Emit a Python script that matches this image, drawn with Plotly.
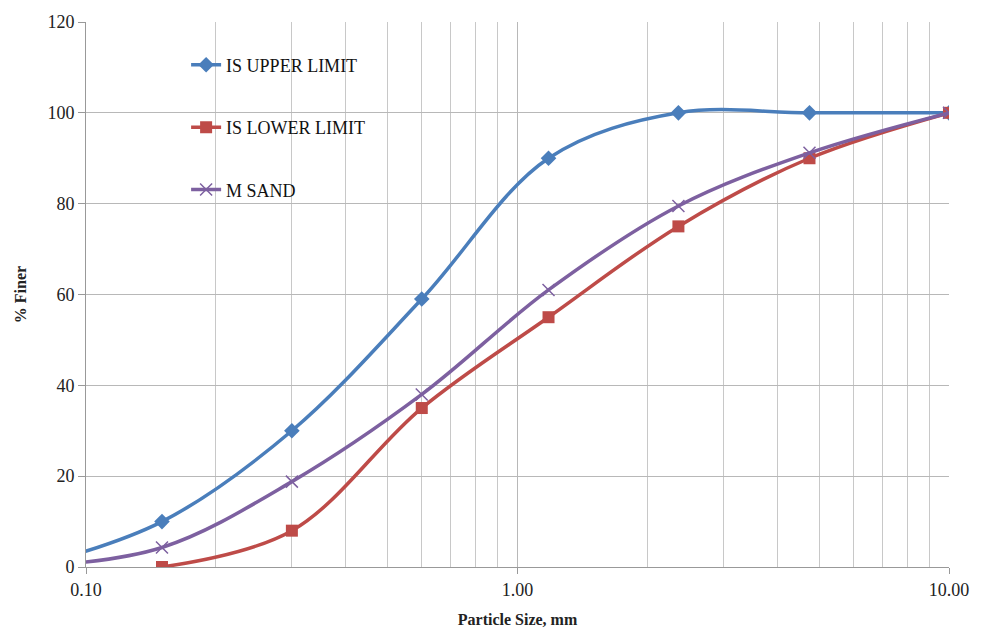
import plotly.graph_objects as go

sieve_mm = [0.075, 0.15, 0.3, 0.6, 1.18, 2.36, 4.75, 10.0]
upper_limit = [0, 10, 30, 59, 90, 100, 100, 100]
lower_sieve = [0.15, 0.3, 0.6, 1.18, 2.36, 4.75, 10.0]
lower_limit = [0, 8, 35, 55, 75, 90, 100]
m_sand = [0, 4.3, 18.8, 38, 61, 79.5, 91.2, 100]

x_tick_vals = [0.1, 1, 10]
x_tick_text = ["0.10", "1.00", "10.00"]
minor_vals = [0.2, 0.3, 0.4, 0.5, 0.6, 0.7, 0.8, 0.9, 2, 3, 4, 5, 6, 7, 8, 9]

BLUE = "#4A7EBB"
RED = "#BE4B48"
PURPLE = "#7D60A0"
FONT = "Liberation Serif, Times New Roman, serif"

fig = go.Figure()
fig.add_trace(go.Scatter(x=sieve_mm, y=upper_limit, name="IS UPPER LIMIT", legendgroup="a",
                         mode="lines+markers", line=dict(color=BLUE, width=3.5, shape="spline", smoothing=1),
                         marker=dict(symbol="diamond", size=12, color=BLUE)))
fig.add_trace(go.Scatter(x=lower_sieve, y=lower_limit, name="IS LOWER LIMIT", legendgroup="b",
                         mode="lines+markers", line=dict(color=RED, width=3.5, shape="spline", smoothing=1),
                         marker=dict(symbol="square", size=12, color=RED)))
fig.add_trace(go.Scatter(x=sieve_mm, y=m_sand, name="M SAND", legendgroup="c",
                         mode="lines+markers", line=dict(color=PURPLE, width=3.5, shape="spline", smoothing=1),
                         marker=dict(symbol="x-thin-open", size=12, color=PURPLE,
                                     line=dict(color=PURPLE, width=1.5))))

# the page body has an 8px margin, so the figure is sized and padded to compensate
fig.update_layout(
    width=976, height=620,
    margin=dict(l=78, r=35, t=14, b=61),
    paper_bgcolor="white", plot_bgcolor="white",
    font=dict(family=FONT, size=18, color="#222222"),
    legend=dict(x=0.116, y=0.955, xanchor="left", yanchor="top",
                bgcolor="rgba(0,0,0,0)", tracegroupgap=36,
                font=dict(family=FONT, size=18, color="#111111")),
    xaxis=dict(type="log", range=[-1, 1], tickvals=x_tick_vals, ticktext=x_tick_text,
               automargin=False,
               showgrid=True, gridcolor="#B8B8B8", gridwidth=1,
               ticks="outside", ticklen=6, tickcolor="#999999",
               showline=True, linecolor="#999999", linewidth=1,
               minor=dict(tickvals=minor_vals, showgrid=True, gridcolor="#C8C8C8", gridwidth=1, ticks=""),
               title=dict(text="<b>Particle Size, mm</b>", font=dict(family=FONT, size=16), standoff=15),
               zeroline=False),
    yaxis=dict(range=[0, 120], tickvals=[0, 20, 40, 60, 80, 100, 120],
               automargin=False,
               showgrid=True, gridcolor="#B8B8B8", gridwidth=1,
               ticks="outside", ticklen=7, tickcolor="#999999",
               showline=True, linecolor="#999999", linewidth=1,
               title=dict(text="<b>% Finer</b>", font=dict(family=FONT, size=16), standoff=16),
               zeroline=False),
)

fig.write_html("out.html")
